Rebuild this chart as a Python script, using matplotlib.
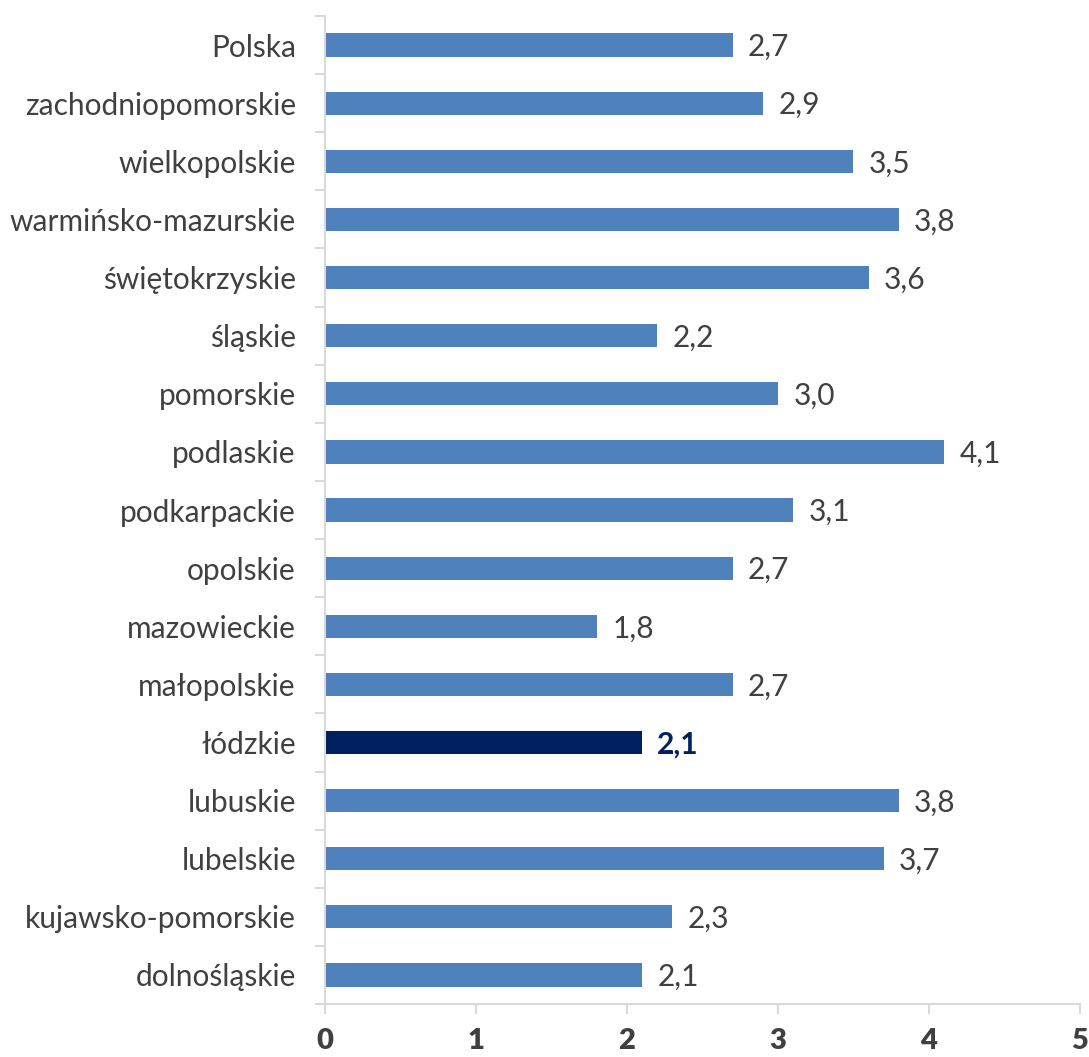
import matplotlib
matplotlib.use('Agg')
import matplotlib.pyplot as plt

# dane
regiony = ['dolnośląskie', 'kujawsko-pomorskie', 'lubelskie', 'lubuskie', 'łódzkie',
           'małopolskie', 'mazowieckie', 'opolskie', 'podkarpackie', 'podlaskie',
           'pomorskie', 'śląskie', 'świętokrzyskie', 'warmińsko-mazurskie',
           'wielkopolskie', 'zachodniopomorskie', 'Polska']
wartosci = [2.1, 2.3, 3.7, 3.8, 2.1, 2.7, 1.8, 2.7, 3.1, 4.1, 3.0, 2.2, 3.6, 3.8, 3.5, 2.9, 2.7]
wyrozniony = 'łódzkie'

plt.rcParams['font.family'] = ['Lato', 'DejaVu Sans']

kolor_bazowy = '#4f81bd'
kolor_wyr = '#002060'
kolor_tekstu = '#404040'
kolor_osi = '#d9d9d9'

fig = plt.figure(figsize=(10.89, 10.57), dpi=100)
ax = fig.add_axes([0.2984, 0.0501, 0.6933, 0.9348])

pozycje = list(range(len(regiony)))
kolory = [kolor_wyr if r == wyrozniony else kolor_bazowy for r in regiony]
ax.barh(pozycje, wartosci, height=0.4, color=kolory)

# etykiety wartosci
for p, v, r in zip(pozycje, wartosci, regiony):
    tekst = f'{v:.1f}'.replace('.', ',')
    if r == wyrozniony:
        ax.annotate(tekst, (v, p), xytext=(11, -1.5), textcoords='offset points',
                    va='center', ha='left', fontsize=21.5, color=kolor_wyr, fontweight='bold')
    else:
        ax.annotate(tekst, (v, p), xytext=(11, -1.5), textcoords='offset points',
                    va='center', ha='left', fontsize=21.5, color=kolor_tekstu)

ax.set_xlim(0, 5)
ax.set_ylim(-0.5, len(regiony) - 0.5)
ax.set_xticks([0, 1, 2, 3, 4, 5])
ax.set_xticklabels(['0', '1', '2', '3', '4', '5'], fontsize=21, fontweight='heavy', color=kolor_tekstu)

# etykiety kategorii i kreski miedzy kategoriami
ax.set_yticks(pozycje)
ax.set_yticklabels(regiony, fontsize=21.5, color=kolor_tekstu)
ax.tick_params(axis='y', length=0, pad=21)
ax.set_yticks([p - 0.5 for p in pozycje] + [len(regiony) - 0.5], minor=True)
ax.tick_params(axis='y', which='minor', length=7, color=kolor_osi, width=1.5)
ax.tick_params(axis='x', length=7, color=kolor_osi, width=1.5, pad=10)

for s in ['top', 'right']:
    ax.spines[s].set_visible(False)
ax.spines['left'].set_color(kolor_osi)
ax.spines['bottom'].set_color(kolor_osi)
ax.spines['left'].set_linewidth(1.5)
ax.spines['bottom'].set_linewidth(1.5)

fig.savefig('out.png', dpi=100)
